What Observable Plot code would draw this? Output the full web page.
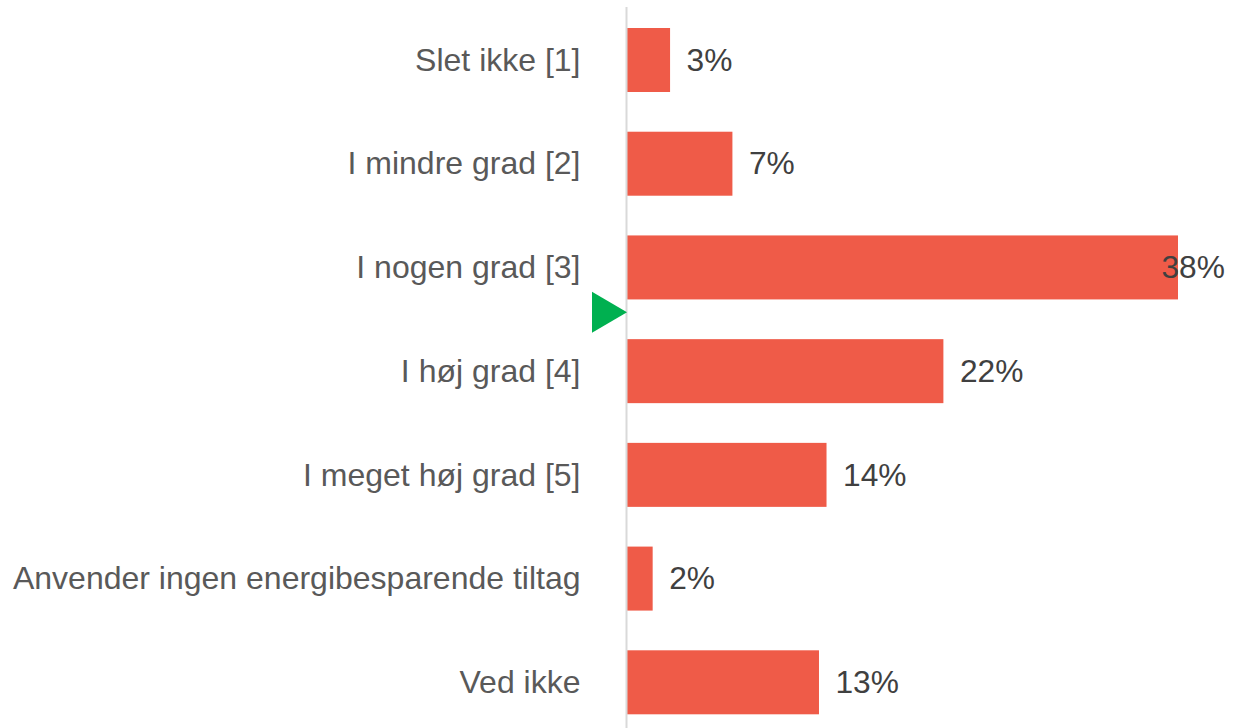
<!DOCTYPE html>
<html>
<head>
<meta charset="utf-8">
<script src="https://cdn.jsdelivr.net/npm/d3@7"></script>
<script src="https://cdn.jsdelivr.net/npm/@observablehq/plot@0.6"></script>
<style>
  html, body { margin: 0; padding: 0; background: #ffffff; overflow: hidden; }
  #chart svg { display: block; }
</style>
</head>
<body>
<div id="chart"></div>
<script>
const categories = [
  "Slet ikke [1]",
  "I mindre grad [2]",
  "I nogen grad [3]",
  "I høj grad [4]",
  "I meget høj grad [5]",
  "Anvender ingen energibesparende tiltag",
  "Ved ikke"
];
const values = [2.97, 7.27, 38.0, 21.82, 13.76, 1.77, 13.24];
const scaleScores = [1, 2, 3, 4, 5, null, null];

const data = categories.map((c, i) => ({category: c, value: values[i], score: scaleScores[i]}));
const maxValue = d3.max(values);

// weighted mean of the 1–5 scale answers
const scored = data.filter(d => d.score != null);
const meanScore = d3.sum(scored, d => d.score * d.value) / d3.sum(scored, d => d.value);

const font = "'Liberation Sans', Arial, sans-serif";

const meanMarker = (index, scales, values, dimensions, context) => {
  const y = scales.y;
  const step = y.step();
  const bw = y.bandwidth();
  const lo = Math.floor(meanScore);
  const frac = meanScore - lo;
  const cy = y(categories[lo - 1]) + bw / 2 + frac * step;
  const x0 = scales.x(0);
  const path = d3.create("svg:path")
    .attr("d", `M${x0},${cy} L${x0 - 35},${cy - 20.5} L${x0 - 35},${cy + 20.5} Z`)
    .attr("fill", "#00B050");
  return path.node();
};

const chart = Plot.plot({
  width: 1250,
  height: 728,
  marginLeft: 627,
  marginRight: 43,
  marginTop: 7,
  marginBottom: 0,
  style: {fontFamily: font, background: "#ffffff"},
  x: {domain: [0, 40], axis: null},
  y: {domain: categories, range: [28, 714.3], paddingInner: 0.383, paddingOuter: 0, round: false, label: null},
  marks: [
    Plot.axisY({
      tickSize: 0,
      tickPadding: 47,
      fontSize: 32,
      fill: "#595959",
      label: null
    }),
    Plot.barX(data, {x: "value", y: "category", fill: "#EF5B48"}),
    Plot.ruleX([0], {stroke: "#D9D9D9", strokeWidth: 2, dx: -1}),
    Plot.text(data.filter(d => d.value !== maxValue), {
      x: "value", y: "category",
      text: d => `${Math.round(d.value)}%`,
      textAnchor: "start", dx: 16, fontSize: 31.7, fill: "#404040"
    }),
    Plot.text(data.filter(d => d.value === maxValue), {
      x: "value", y: "category",
      text: d => `${Math.round(d.value)}%`,
      textAnchor: "start", dx: -17, fontSize: 31.7, fill: "#404040"
    }),
    meanMarker
  ]
});

document.getElementById("chart").append(chart);
</script>
</body>
</html>
